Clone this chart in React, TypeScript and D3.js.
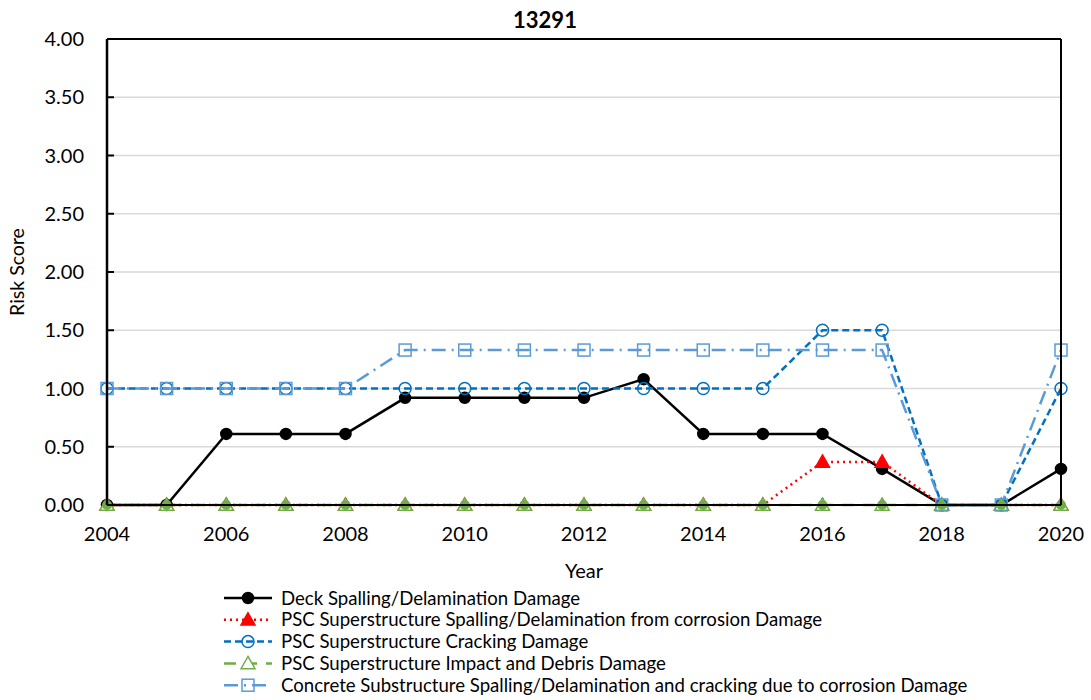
import React from "react";
import * as d3 from "d3";

const years = [2004, 2005, 2006, 2007, 2008, 2009, 2010, 2011, 2012, 2013, 2014, 2015, 2016, 2017, 2018, 2019, 2020];
const deckSpalling = [0, 0, 0.61, 0.61, 0.61, 0.92, 0.92, 0.92, 0.92, 1.08, 0.61, 0.61, 0.61, 0.31, 0, 0, 0.31];
const pscSpalling = [0, 0, 0, 0, 0, 0, 0, 0, 0, 0, 0, 0, 0.37, 0.37, 0, 0, 0];
const pscCracking = [1, 1, 1, 1, 1, 1, 1, 1, 1, 1, 1, 1, 1.5, 1.5, 0, 0, 1];
const pscImpact = [0, 0, 0, 0, 0, 0, 0, 0, 0, 0, 0, 0, 0, 0, 0, 0, 0];
const concreteSub = [1, 1, 1, 1, 1, 1.33, 1.33, 1.33, 1.33, 1.33, 1.33, 1.33, 1.33, 1.33, 0, 0, 1.33];
const xTicks = [2004, 2006, 2008, 2010, 2012, 2014, 2016, 2018, 2020];
const yTicks = [0, 0.5, 1, 1.5, 2, 2.5, 3, 3.5, 4];

const series = [
  { name: "Deck Spalling/Delamination Damage", values: deckSpalling, color: "#000000", dash: "", marker: "circle", fill: true, width: 2.5 },
  { name: "PSC Superstructure Spalling/Delamination from corrosion Damage", values: pscSpalling, color: "#ff0000", dash: "2,4", marker: "triangle", fill: true, width: 2.5 },
  { name: "PSC Superstructure Cracking Damage", values: pscCracking, color: "#0070c0", dash: "7,4", marker: "circle", fill: false, width: 2.5 },
  { name: "PSC Superstructure Impact and Debris Damage", values: pscImpact, color: "#70ad47", dash: "12,9", marker: "triangle", fill: false, width: 2.5 },
  { name: "Concrete Substructure Spalling/Delamination and cracking due to corrosion Damage", values: concreteSub, color: "#5b9bd5", dash: "14,6,2,6", marker: "square", fill: false, width: 2.5 },
];

const FONT = "Lato, 'Open Sans', sans-serif";

const Marker = ({ type, x, y, color, fill }: any) => {
  if (type === "circle") {
    return <circle cx={x} cy={y} r={fill ? 5.5 : 6} fill={fill ? color : "none"} stroke={color} strokeWidth={1.5} />;
  }
  if (type === "triangle") {
    const s = 7;
    return (
      <path
        d={`M${x},${y - s}L${x + s},${y + s * 0.75}L${x - s},${y + s * 0.75}Z`}
        fill={fill ? color : "#ffffff"}
        stroke={color}
        strokeWidth={1.5}
      />
    );
  }
  return <rect x={x - 6} y={y - 6} width={12} height={12} fill={fill ? color : "none"} stroke={color} strokeWidth={1.5} />;
};

export default function App() {
  const width = 1091;
  const height = 700;
  const M = { left: 107, right: 30, top: 39, bottom: 195 };
  const x = d3.scaleLinear().domain([2004, 2020]).range([M.left, width - M.right]);
  const y = d3.scaleLinear().domain([0, 4]).range([height - M.bottom, M.top]);

  const line = (vals: number[]) =>
    d3
      .line<number>()
      .x((_, i) => x(years[i]))
      .y((d) => y(d))(vals) || "";

  return (
    <svg width={width} height={height} style={{ position: "absolute", left: 0, top: 0, fontFamily: FONT }}>
      <rect width={width} height={height} fill="#fff" />
      <text x={545} y={28} textAnchor="middle" fontSize={22} fontWeight="bold">
        13291
      </text>
      {yTicks.map((t) => (
        <g key={t}>
          {t > 0 && t < 4 && <line x1={x(2004)} x2={x(2020)} y1={y(t)} y2={y(t)} stroke="#d9d9d9" strokeWidth={1.5} />}
          <line x1={x(2004)} x2={x(2004) + 7} y1={y(t)} y2={y(t)} stroke="#000" strokeWidth={2} />
          <text x={x(2004) - 23} y={y(t)} dy="0.35em" textAnchor="end" fontSize={20}>
            {t.toFixed(2)}
          </text>
        </g>
      ))}
      {xTicks.map((t) => (
        <text key={t} x={x(t)} y={y(0) + 36} textAnchor="middle" fontSize={20}>
          {t}
        </text>
      ))}
      {years.map((yr) => (
        <line key={yr} x1={x(yr)} x2={x(yr)} y1={y(0)} y2={y(0) - 7} stroke="#000" strokeWidth={2} />
      ))}
      <text x={(x(2004) + x(2020)) / 2} y={578} textAnchor="middle" fontSize={20}>
        Year
      </text>
      <text transform={`translate(24, ${(y(0) + y(4)) / 2}) rotate(-90)`} textAnchor="middle" fontSize={19.5}>
        Risk Score
      </text>
      {series.map((s) => (
        <path key={s.name} d={line(s.values)} fill="none" stroke={s.color} strokeWidth={s.width} strokeDasharray={s.dash} />
      ))}
      {series.map((s) =>
        s.values.map((v, i) => <Marker key={s.name + i} type={s.marker} x={x(years[i])} y={y(v)} color={s.color} fill={s.fill} />)
      )}
      {years.map((yr) => (
        <circle key={"g" + yr} cx={x(yr)} cy={y(0)} r={5} fill="#70ad47" />
      ))}
      <line x1={x(2004)} x2={x(2020)} y1={y(4)} y2={y(4)} stroke="#000" strokeWidth={2} />
      <line x1={x(2020)} x2={x(2020)} y1={y(4)} y2={y(0)} stroke="#000" strokeWidth={2} />
      <line x1={x(2004)} x2={x(2004)} y1={y(4)} y2={y(0)} stroke="#000" strokeWidth={2.5} />
      <line x1={x(2004)} x2={x(2020)} y1={y(0)} y2={y(0)} stroke="#000" strokeWidth={2} />
      {series.map((s, i) => {
        const ly = 598 + i * 21.8;
        return (
          <g key={"leg" + i}>
            <line x1={224} x2={272} y1={ly} y2={ly} stroke={s.color} strokeWidth={s.width} strokeDasharray={s.dash} />
            <Marker type={s.marker} x={248} y={ly} color={s.color} fill={s.fill} />
            <text x={281} y={ly} dy="0.35em" fontSize={18.6}>
              {s.name}
            </text>
          </g>
        );
      })}
    </svg>
  );
}
